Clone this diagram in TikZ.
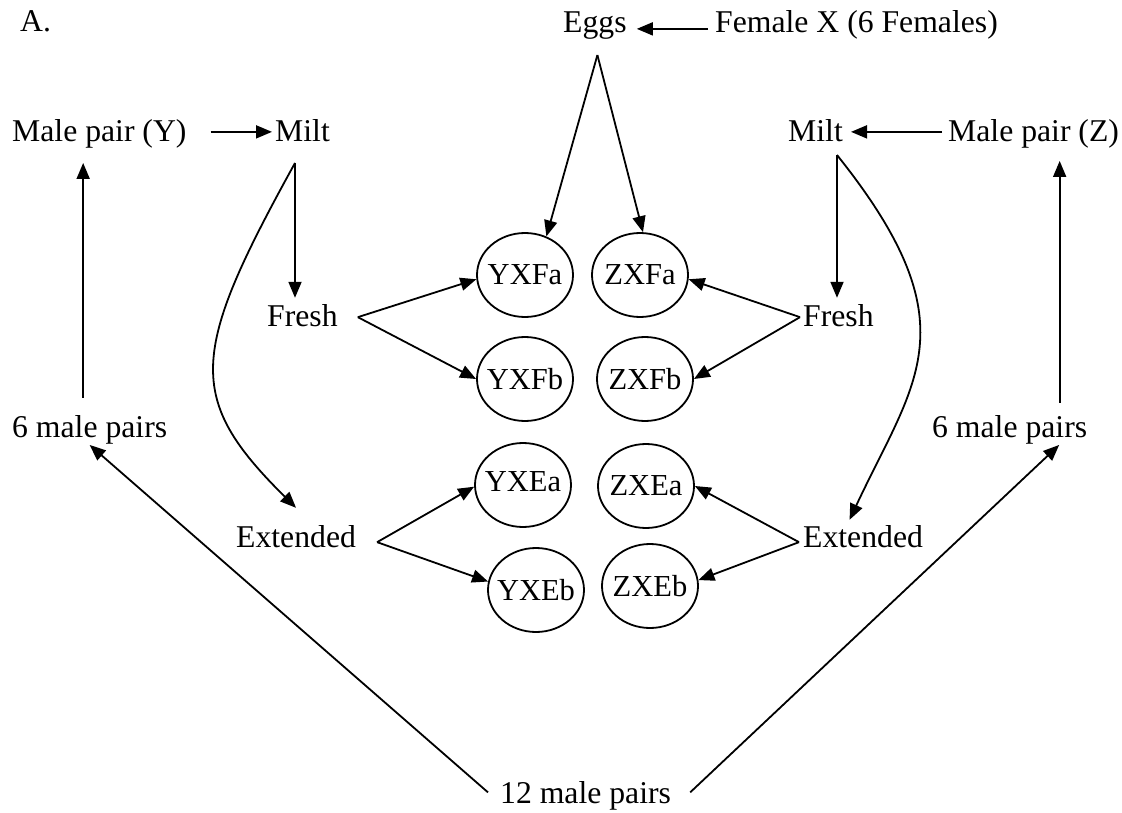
\documentclass[tikz,border=0pt]{standalone}
\usepackage{fontspec}
\setmainfont{Liberation Serif}
\usetikzlibrary{arrows.meta,shapes.geometric}
\begin{document}
\begin{tikzpicture}[x=1pt,y=-1pt,
  lbl/.style={inner sep=0pt, anchor=base west, font=\fontsize{31.7}{38}\selectfont},
  egg/.style={draw, ellipse, line width=1.8pt, minimum width=96pt, minimum height=84pt, inner sep=0pt, font=\fontsize{30.5}{36}\selectfont},
  arr/.style={line width=1.8pt, -{Triangle[length=16pt,width=13pt]}},
  ln/.style={line width=1.8pt}]
\useasboundingbox (0,0) rectangle (1122,813);

% labels
\node[lbl] (A) at (20,32) {A.};
\node[lbl] (maleY) at (12,142) {Male pair (Y)};
\node[lbl] (miltL) at (275,142) {Milt};
\node[lbl] (eggs) at (563,33) {Eggs};
\node[lbl] (female) at (715,33) {Female X (6 Females)};
\node[lbl] (miltR) at (788,142) {Milt};
\node[lbl] (maleZ) at (948,142) {Male pair (Z)};
\node[lbl] (freshL) at (267,326) {Fresh};
\node[lbl] (freshR) at (803,326) {Fresh};
\node[lbl] (sixL) at (12,437) {6 male pairs};
\node[lbl] (sixR) at (932,437) {6 male pairs};
\node[lbl] (extL) at (236,547) {Extended};
\node[lbl] (extR) at (803,547) {Extended};
\node[lbl] (twelve) at (500,803) {12 male pairs};

% ellipses
\node[egg] (YXFa) at (525,275) {\makebox[0pt]{YXFa}};
\node[egg] (ZXFa) at (640,275) {\makebox[0pt]{ZXFa}};
\node[egg] (YXFb) at (525,379) {\makebox[0pt]{YXFb}};
\node[egg] (ZXFb) at (645,379) {\makebox[0pt]{ZXFb}};
\node[egg] (YXEa) at (523,485) {\makebox[0pt]{\raisebox{6pt}{YXEa}}};
\node[egg] (ZXEa) at (646,486) {\makebox[0pt]{ZXEa}};
\node[egg] (YXEb) at (536,590) {\makebox[0pt]{YXEb}};
\node[egg] (ZXEb) at (650,586) {\makebox[0pt]{ZXEb}};

% branching points
\coordinate (apex) at ([xshift=2.5pt,yshift=-15pt]eggs.south);
\coordinate (mL) at (295,163);
\coordinate (mR) at (837,155);

% top horizontal arrows
\draw[arr] ([xshift=24pt,yshift=2.5pt]maleY.east) -- ([xshift=-3pt,yshift=2.5pt]miltL.west |- maleY.east);
\draw[arr] ([xshift=-6pt,yshift=2.5pt]maleZ.west) -- ([xshift=8pt,yshift=2.5pt]miltR.east |- maleZ.west);
\draw[arr] ([xshift=-7pt,yshift=-3.5pt]female.west) -- ([xshift=10pt,yshift=-3.5pt]eggs.east |- female.west);

% eggs to ellipses
\draw[arr] (apex) -- (YXFa.61);
\draw[arr] (apex) -- (ZXFa.86);

% milt left
\draw[arr] (mL) -- ([yshift=6pt]mL |- freshL.north);
\draw[arr] (mL) .. controls (190,353) and (185,398) .. ([yshift=17pt]extL.north);
% milt right
\draw[arr] (mR) -- ([yshift=6pt]mR |- freshR.north);
\draw[arr] (mR) .. controls (973,325) and (915,380) .. ([xshift=-13.5pt,yshift=5pt]extR.north);

% fresh / extended to ellipses
\draw[arr] ([xshift=20pt,yshift=-2pt]freshL.east) -- (YXFa.185);
\draw[arr] ([xshift=20pt,yshift=-2pt]freshL.east) -- (YXFb.west);
\draw[arr] ([xshift=-3pt,yshift=-2pt]freshR.west) -- (ZXFa.355);
\draw[arr] ([xshift=-3pt,yshift=-2pt]freshR.west) -- (ZXFb.east);
\draw[arr] ([xshift=21pt,yshift=-6pt]extL.east) -- (YXEa.182);
\draw[arr] ([xshift=21pt,yshift=-6pt]extL.east) -- (YXEb.170);
\draw[arr] ([xshift=-4pt,yshift=-6pt]extR.west) -- (ZXEa.east);
\draw[arr] ([xshift=-4pt,yshift=-6pt]extR.west) -- (ZXEb.7);

% six male pairs up to male pairs
\draw[arr] ([xshift=-6.5pt,yshift=17pt]sixL.north) -- ([xshift=-6.5pt,yshift=-14pt]sixL.north |- maleY.south);
\draw[arr] ([xshift=50pt,yshift=12pt]sixR.north) -- ([xshift=50pt,yshift=-12pt]sixR.north |- maleZ.south);

% twelve to six
\draw[arr] ([xshift=-12pt,yshift=3pt]twelve.west) -- ([yshift=-1pt]sixL.south);
\draw[arr] ([xshift=19pt,yshift=3pt]twelve.east) -- ([xshift=49.5pt,yshift=-1pt]sixR.south);
\end{tikzpicture}
\end{document}
